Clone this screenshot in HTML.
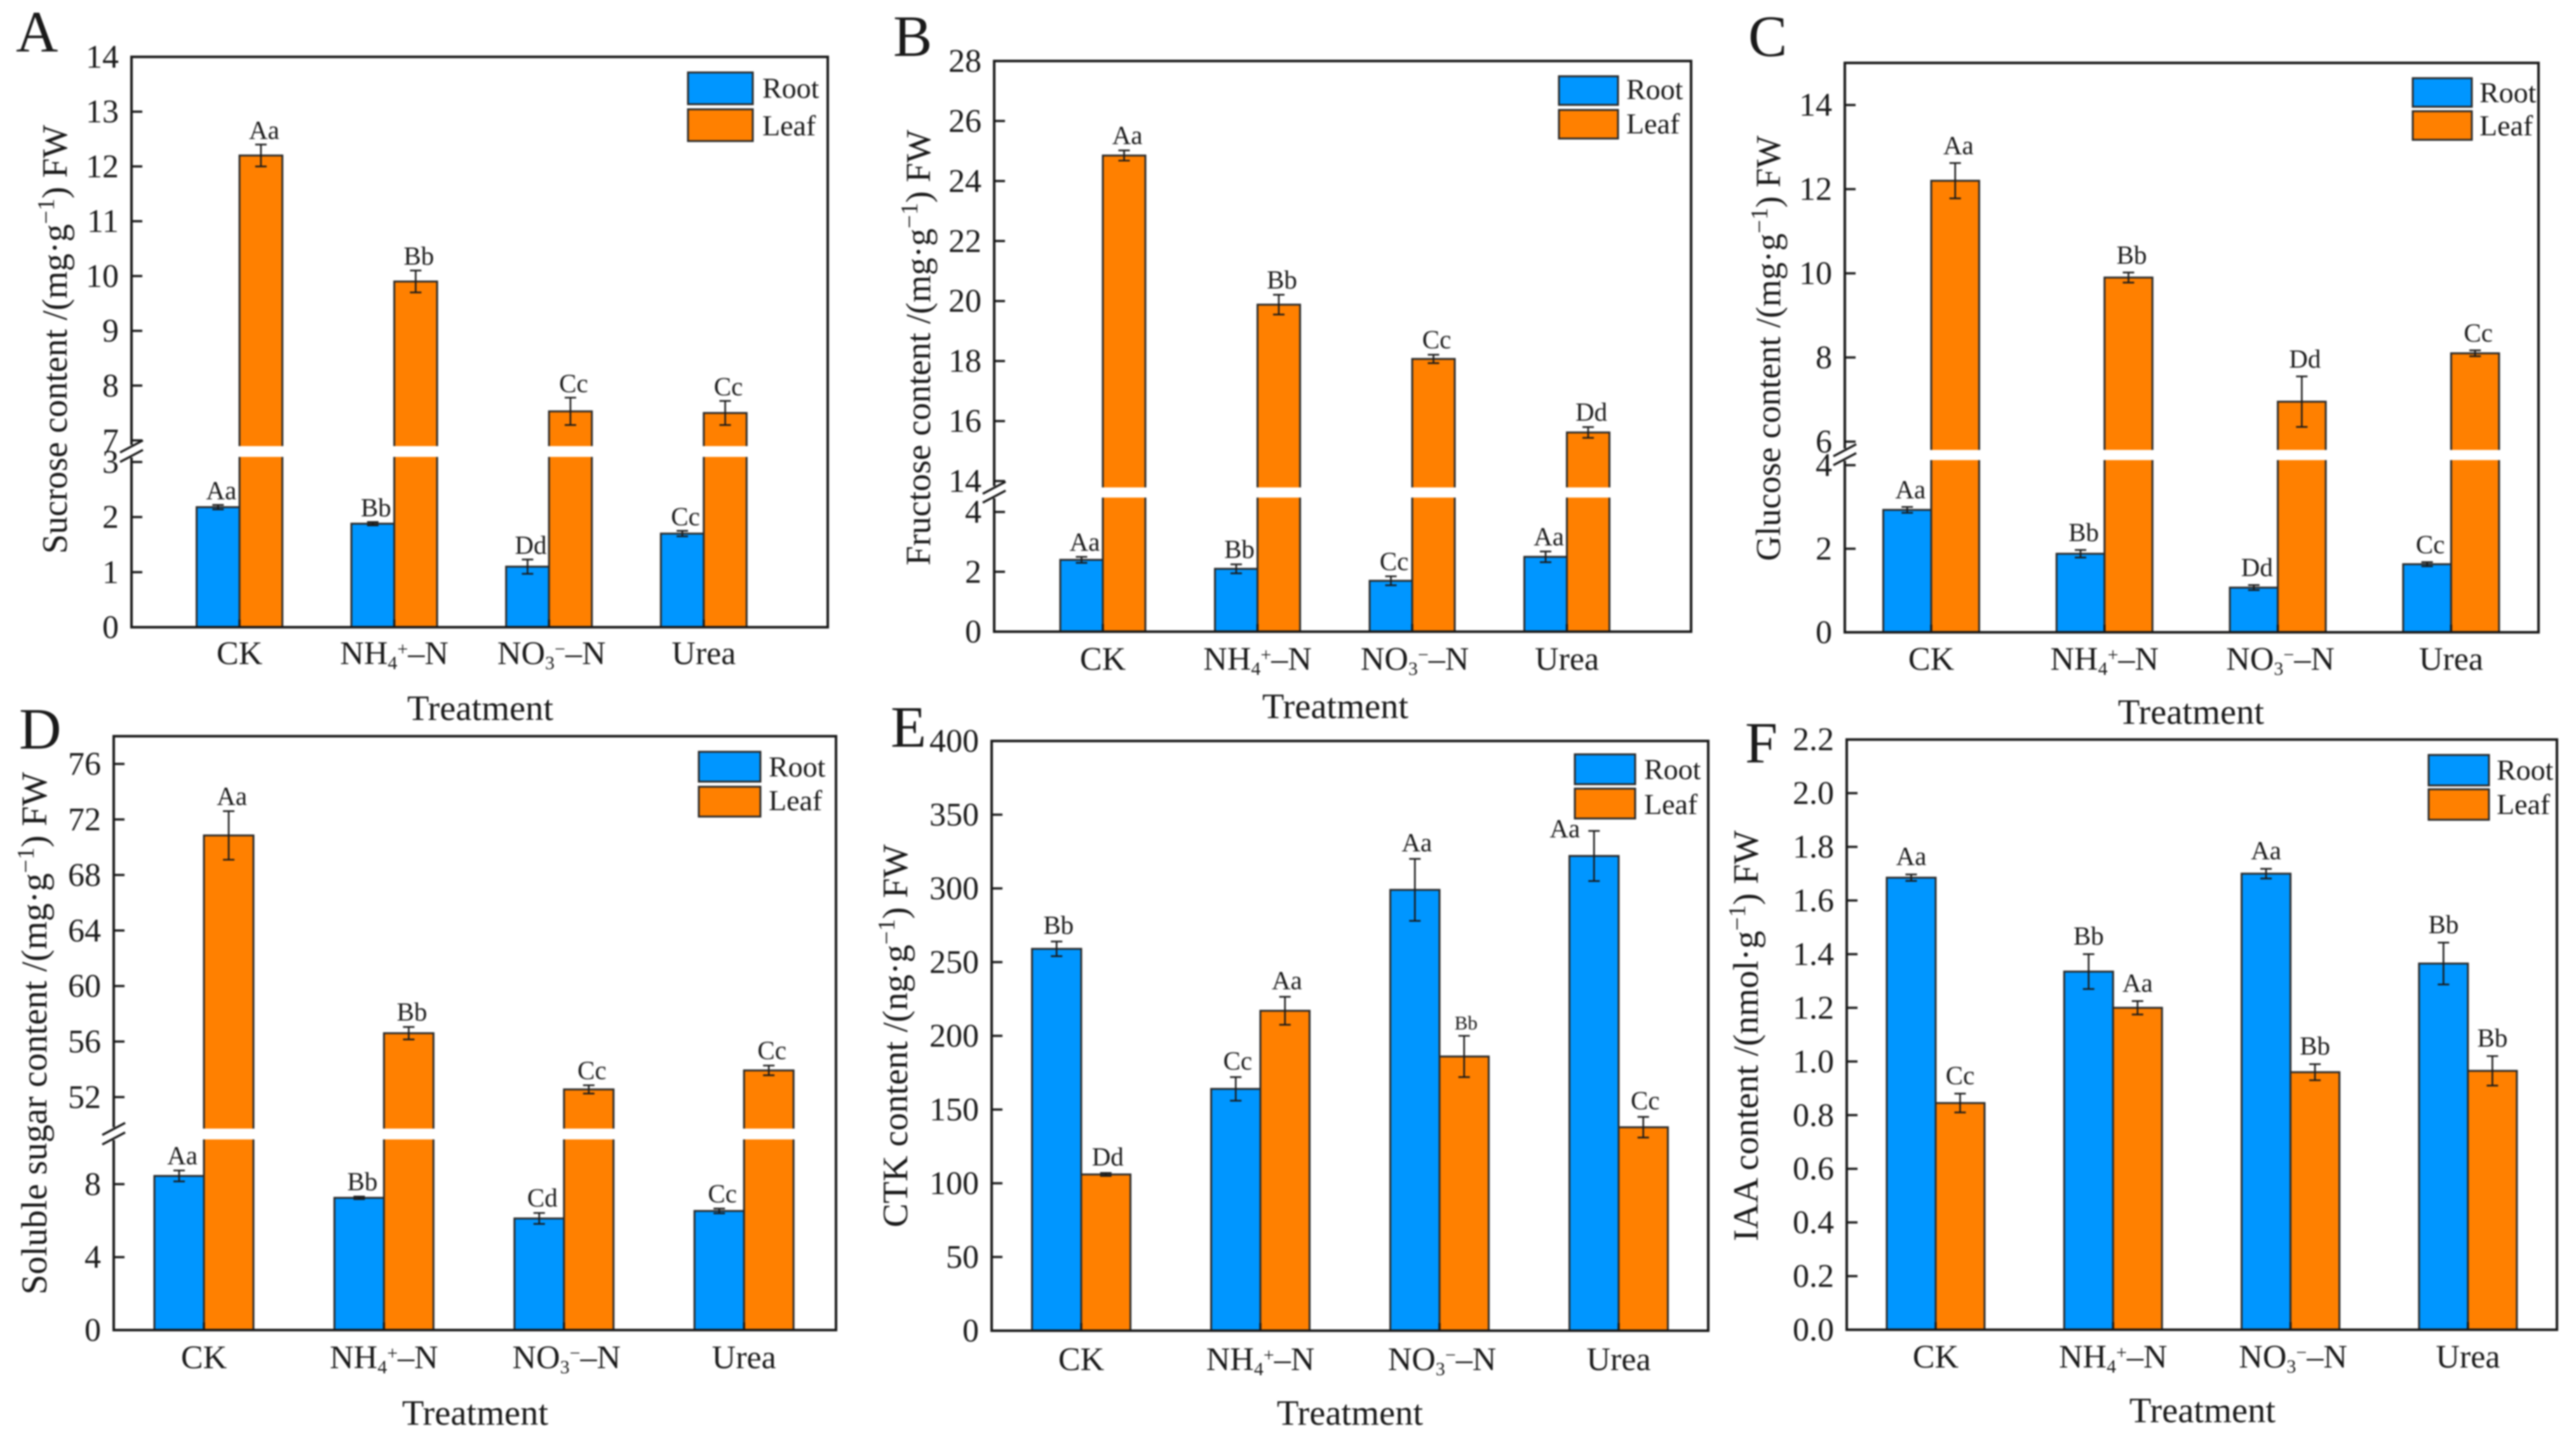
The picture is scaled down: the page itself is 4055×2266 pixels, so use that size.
<!DOCTYPE html>
<html lang="en">
<head>
<meta charset="utf-8">
<title>Sugar and hormone content by nitrogen treatment</title>
<style>
html,body{margin:0;padding:0;background:#fff;}
body{width:4055px;height:2266px;overflow:hidden;}
svg{display:block;filter:blur(1.4px);}
text{font-family:"Liberation Serif",serif;fill:#1a1a1a;}
</style>
</head>
<body>
<svg id="figure" xmlns="http://www.w3.org/2000/svg" width="4055" height="2266" viewBox="0 0 4055 2266">
<rect width="4055" height="2266" fill="#ffffff"/>
</svg>
<script>
const categories = ['CK', 'NH₄⁺–N', 'NO₃⁻–N', 'Urea'];
const seriesNames = ['Root', 'Leaf'];

const ticksA = [0, 1, 2, 3, 7, 8, 9, 10, 11, 12, 13, 14];
const rootA = [2.18, 1.88, 1.1, 1.7];
const leafA = [12.2, 9.9, 7.53, 7.5];
const rootErrA = [0.04, 0.03, 0.13, 0.05];
const leafErrA = [0.2, 0.2, 0.25, 0.22];
const rootSigA = ['Aa', 'Bb', 'Dd', 'Cc'];
const leafSigA = ['Aa', 'Bb', 'Cc', 'Cc'];

const ticksB = [0, 2, 4, 14, 16, 18, 20, 22, 24, 26, 28];
const rootB = [2.4, 2.1, 1.7, 2.5];
const leafB = [24.85, 19.88, 18.07, 15.62];
const rootErrB = [0.1, 0.15, 0.15, 0.18];
const leafErrB = [0.17, 0.33, 0.14, 0.18];
const rootSigB = ['Aa', 'Bb', 'Cc', 'Aa'];
const leafSigB = ['Aa', 'Bb', 'Cc', 'Dd'];

const ticksC = [0, 2, 4, 6, 8, 10, 12, 14];
const rootC = [2.93, 1.88, 1.07, 1.63];
const leafC = [12.2, 9.9, 6.95, 8.1];
const rootErrC = [0.07, 0.09, 0.06, 0.05];
const leafErrC = [0.42, 0.12, 0.6, 0.07];
const rootSigC = ['Aa', 'Bb', 'Dd', 'Cc'];
const leafSigC = ['Aa', 'Bb', 'Dd', 'Cc'];

const ticksD = [0, 4, 8, 52, 56, 60, 64, 68, 72, 76];
const rootD = [8.45, 7.25, 6.12, 6.53];
const leafD = [70.85, 56.6, 52.55, 53.92];
const rootErrD = [0.3, 0.07, 0.3, 0.13];
const leafErrD = [1.75, 0.45, 0.3, 0.35];
const rootSigD = ['Aa', 'Bb', 'Cd', 'Cc'];
const leafSigD = ['Aa', 'Bb', 'Cc', 'Cc'];

const ticksE = [0, 50, 100, 150, 200, 250, 300, 350, 400];
const rootE = [259, 164, 299, 322];
const leafE = [106, 217, 186, 138];
const rootErrE = [5, 8, 21, 17];
const leafErrE = [1, 9.5, 14, 7];
const rootSigE = ['Bb', 'Cc', 'Aa', 'Aa'];
const leafSigE = ['Dd', 'Aa', 'Bb', 'Cc'];

const ticksF = [0, 0.2, 0.4, 0.6, 0.8, 1.0, 1.2, 1.4, 1.6, 1.8, 2.0, 2.2];
const rootF = [1.685, 1.335, 1.70, 1.365];
const leafF = [0.845, 1.2, 0.96, 0.965];
const rootErrF = [0.012, 0.065, 0.018, 0.078];
const leafErrF = [0.035, 0.025, 0.03, 0.055];
const rootSigF = ['Aa', 'Bb', 'Aa', 'Bb'];
const leafSigF = ['Cc', 'Aa', 'Bb', 'Bb'];

const panels = [
  {id:'A', title:'Sucrose content /(mg·g', unit:') FW', titleSize:55.6, left:207, right:1303, top:89.5, bottom:987,
   c0:377, step:243.6, bw:67.5, lowTop:3, lowTopPx:727, upMin:7, upMinPx:693, upMax:14, gap:[702,719],
   ticks:ticksA, root:rootA, leaf:leafA, rootErr:rootErrA, leafErr:leafErrA, rootSig:rootSigA, leafSig:leafSigA,
   digits:0, sigGap:9, sigDx:5, nudge:{}, catY:1045, trX:756, trY:1133, yTitleX:105, yTitleY:534, letter:'A', letterX:25, letterY:81,
   lgX:1083, lgW:102, lgY:[114,172], lgH:50, lgTx:1200, lgBase:[154,213]},
  {id:'B', title:'Fructose content /(mg·g', unit:') FW', titleSize:55.2, left:1565, right:2662, top:96, bottom:994,
   c0:1736, step:243.5, bw:67, lowTop:4, lowTopPx:805.6, upMin:14, upMinPx:757, upMax:28, gap:[767,783],
   ticks:ticksB, root:rootB, leaf:leafB, rootErr:rootErrB, leafErr:leafErrB, rootSig:rootSigB, leafSig:leafSigB,
   digits:0, sigGap:10, sigDx:5, nudge:{}, catY:1054, trX:2102, trY:1130, yTitleX:1464, yTitleY:547, letter:'B', letterX:1406, letterY:88,
   lgX:2454, lgW:93, lgY:[120,173], lgH:45, lgTx:2560, lgBase:[156,210]},
  {id:'C', title:'Glucose content /(mg·g', unit:') FW', titleSize:54.6, left:2904, right:3996, top:99, bottom:995,
   c0:3040, step:272.8, bw:75.5, lowTop:4, lowTopPx:732, upMin:6, upMinPx:695, upMax:15, gap:[708,724],
   ticks:ticksC, root:rootC, leaf:leafC, rootErr:rootErrC, leafErr:leafErrC, rootSig:rootSigC, leafSig:leafSigC,
   digits:0, sigGap:14, sigDx:5, nudge:{}, catY:1054, trX:3449, trY:1139, yTitleX:2802, yTitleY:548, letter:'C', letterX:2752, letterY:88,
   lgX:3798, lgW:93, lgY:[123,175], lgH:45, lgTx:3903, lgBase:[161,213]},
  {id:'D', title:'Soluble sugar content /(mg·g', unit:') FW', titleSize:57, left:179, right:1316, top:1158.5, bottom:2093,
   c0:321, step:283.4, bw:78, lowTop:10, lowTopPx:1806, upMin:50, upMinPx:1770, upMax:78, gap:[1776,1793],
   ticks:ticksD, root:rootD, leaf:leafD, rootErr:rootErrD, leafErr:leafErrD, rootSig:rootSigD, leafSig:leafSigD,
   digits:0, sigGap:10, sigDx:5, nudge:{}, catY:2153, trX:748, trY:2242, yTitleX:73, yTitleY:1626, letter:'D', letterX:30, letterY:1178,
   lgX:1100, lgW:97, lgY:[1183,1238], lgH:47, lgTx:1210, lgBase:[1222,1275]},
  {id:'E', title:'CTK content /(ng·g', unit:') FW', titleSize:56.4, left:1561, right:2689, top:1166, bottom:2094,
   c0:1702, step:282, bw:77.5, upMax:400,
   ticks:ticksE, root:rootE, leaf:leafE, rootErr:rootErrE, leafErr:leafErrE, rootSig:rootSigE, leafSig:leafSigE,
   digits:0, sigGap:12, sigDx:3, nudge:{'root-3':{dx:-49, dy:22}, 'leaf-2':{dx:0, dy:2, size:31}},
   catY:2156, trX:2125, trY:2242, yTitleX:1428, yTitleY:1630, letter:'E', letterX:1402, letterY:1175,
   lgX:2479, lgW:95, lgY:[1187,1241], lgH:47, lgTx:2588, lgBase:[1226,1281]},
  {id:'F', title:'IAA content /(nmol·g', unit:') FW', titleSize:56.4, left:2907, right:4025, top:1163.7, bottom:2092.5,
   c0:3047, step:279.3, bw:77, upMax:2.2,
   ticks:ticksF, root:rootF, leaf:leafF, rootErr:rootErrF, leafErr:leafErrF, rootSig:rootSigF, leafSig:leafSigF,
   digits:1, sigGap:15, sigDx:0, nudge:{}, catY:2152, trX:3467, trY:2238, yTitleX:2767, yTitleY:1630, letter:'F', letterX:2747, letterY:1200,
   lgX:3823, lgW:95, lgY:[1188,1242], lgH:48, lgTx:3930, lgBase:[1227,1281]}
];

const ROOT_COLOR = '#0096ff';
const LEAF_COLOR = '#ff8000';
const INK = '#1a1a1a';
const BAR_EDGE = '#2b2b2b';
const NS = 'http://www.w3.org/2000/svg';
const svg = document.getElementById('figure');

function make(tag, parent, attrs) {
  const node = document.createElementNS(NS, tag);
  Object.keys(attrs).forEach(function (k) { node.setAttribute(k, attrs[k]); });
  parent.appendChild(node);
  return node;
}

function yScale(p) {
  if (p.lowTop === undefined) {
    return function (v) { return p.bottom - (v / p.upMax) * (p.bottom - p.top); };
  }
  return function (v) {
    if (v <= (p.lowTop + p.upMin) / 2) {
      return p.bottom - (v / p.lowTop) * (p.bottom - p.lowTopPx);
    }
    return p.upMinPx - ((v - p.upMin) / (p.upMax - p.upMin)) * (p.upMinPx - p.top);
  };
}

function xCenter(p, i) { return p.c0 + i * p.step; }

function addCategoryText(node, label, size) {
  const small = {'₃':['3',8],'₄':['4',8],'⁺':['+',-14],'⁻':['−',-14]};
  let shift = 0;
  Array.from(label).forEach(function (ch) {
    const t = make('tspan', node, {});
    if (small[ch]) {
      t.textContent = small[ch][0];
      t.setAttribute('font-size', Math.round(size * 0.58));
      t.setAttribute('dy', small[ch][1] - shift);
      shift = small[ch][1];
    } else {
      t.textContent = ch;
      t.setAttribute('dy', -shift);
      shift = 0;
    }
  });
}

panels.forEach(function (p) {
  const y = yScale(p);
  const g = make('g', svg, {});
  
  

  const letter = make('text', g, {x: p.letterX, y: p.letterY, 'font-size': 92});
  letter.textContent = p.letter;
  
  

  categories.forEach(function (cat, i) {
    const c = xCenter(p, i);
    const rootBar = make('rect', g, {x: c - p.bw, y: y(p.root[i]), width: p.bw, height: p.bottom - y(p.root[i]), fill: ROOT_COLOR, stroke: BAR_EDGE, 'stroke-width': 3});
    
    
    const leafBar = make('rect', g, {x: c, y: y(p.leaf[i]), width: p.bw, height: p.bottom - y(p.leaf[i]), fill: LEAF_COLOR, stroke: BAR_EDGE, 'stroke-width': 3});
    
    
  });

  if (p.gap) {
    categories.forEach(function (cat, i) {
      const c = xCenter(p, i);
      const white = make('rect', g, {x: c - 3, y: p.gap[0], width: p.bw + 8, height: p.gap[1] - p.gap[0], fill: '#ffffff'});
      
      
    });
  }

  categories.forEach(function (cat, i) {
    const c = xCenter(p, i);
    [[-p.bw / 2, p.root, p.rootErr, p.rootSig, 'root'], [p.bw / 2, p.leaf, p.leafErr, p.leafSig, 'leaf']].forEach(function (s) {
      const ex = c + s[0];
      const val = s[1][i];
      const err = s[2][i];
      const hi = y(val + err);
      const lo = y(val - err);
      const capHalf = 9;
      const path = make('path', g, {d: 'M' + (ex - capHalf) + ' ' + hi + 'H' + (ex + capHalf) + 'M' + ex + ' ' + hi + 'V' + lo + 'M' + (ex - capHalf) + ' ' + lo + 'H' + (ex + capHalf), stroke: INK, 'stroke-width': 2.6, fill: 'none'});
      
      
      const nudge = p.nudge[s[4] + '-' + i] || {dx: 0, dy: 0};
      const sig = make('text', g, {x: ex + p.sigDx + nudge.dx, y: hi - p.sigGap + nudge.dy, 'font-size': nudge.size || 41, 'text-anchor': 'middle'});
      sig.textContent = s[3][i];
      
      
    });

    const catText = make('text', g, {x: c + (i === 2 ? 4 : 0), y: p.catY, 'font-size': 52, 'text-anchor': 'middle'});
    addCategoryText(catText, cat, 52);
    
    

    const xt = make('line', g, {x1: c, x2: c, y1: p.bottom, y2: p.bottom - 12, stroke: INK, 'stroke-width': 3.5});
    
    
  });

  const frameD = p.gap
    ? 'M' + p.left + ' ' + (p.gap[0] - 2) + 'V' + p.top + 'H' + p.right + 'V' + p.bottom + 'H' + p.left + 'V' + (p.gap[1] + 1)
    : 'M' + p.left + ' ' + p.top + 'H' + p.right + 'V' + p.bottom + 'H' + p.left + 'Z';
  const frame = make('path', g, {d: frameD, fill: 'none', stroke: INK, 'stroke-width': 4});
  
  

  if (p.gap) {
    [p.gap[0] + 1, p.gap[1] - 1].forEach(function (gy) {
      const slash = make('line', g, {x1: p.left - 18, x2: p.left + 18, y1: gy + 9, y2: gy - 10, stroke: INK, 'stroke-width': 3.5});
      
      
    });
  }

  p.ticks.forEach(function (t) {
    const ty = y(t);
    const tick = make('line', g, {x1: p.left, x2: p.left + 17, y1: ty, y2: ty, stroke: INK, 'stroke-width': 3.5});
    
    
    const lab = make('text', g, {x: p.left - 20, y: ty + 17, 'font-size': 52, 'text-anchor': 'end'});
    lab.textContent = t.toFixed(p.digits);
    
    
  });

  const yTitle = make('text', g, {'font-size': p.titleSize, 'text-anchor': 'middle', transform: 'translate(' + p.yTitleX + ' ' + p.yTitleY + ') rotate(-90)'});
  const t1 = make('tspan', yTitle, {});
  t1.textContent = p.title;
  const t2 = make('tspan', yTitle, {dy: -20, 'font-size': 38});
  t2.textContent = '−1';
  const t3 = make('tspan', yTitle, {dy: 20});
  t3.textContent = p.unit;
  
  

  const xTitle = make('text', g, {x: p.trX, y: p.trY, 'font-size': 56.5, 'text-anchor': 'middle'});
  xTitle.textContent = 'Treatment';
  
  

  seriesNames.forEach(function (name, k) {
    const sw = make('rect', g, {x: p.lgX, y: p.lgY[k], width: p.lgW, height: p.lgH, fill: k === 0 ? ROOT_COLOR : LEAF_COLOR, stroke: BAR_EDGE, 'stroke-width': 3});
    
    
    const txt = make('text', g, {x: p.lgTx, y: p.lgBase[k], 'font-size': 46});
    txt.textContent = name;
    
    
  });
});
</script>
</body>
</html>
